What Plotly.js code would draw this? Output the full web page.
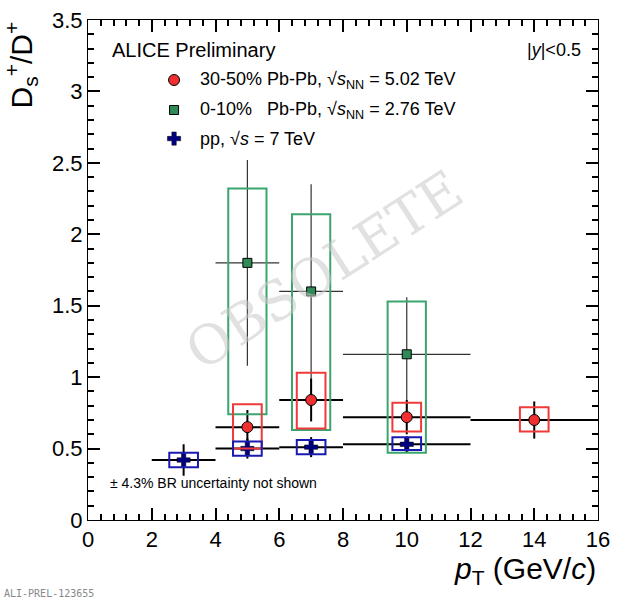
<!DOCTYPE html>
<html><head><meta charset="utf-8">
<script src="https://cdn.plot.ly/plotly-3.0.1.min.js"></script>
<style>body{margin:0}#plot{width:620px;height:599px}</style>
</head><body><div id="plot"></div>
<script>
// pp, sqrt(s) = 7 TeV
const ppX = [3, 5, 7, 10];
const ppXerr = [1, 1, 1, 2];
const ppY = [0.42, 0.50, 0.51, 0.53];
const ppStat = [0.11, 0.07, 0.07, 0.055];
const ppSystLo = [0.37, 0.45, 0.46, 0.49];
const ppSystHi = [0.47, 0.55, 0.56, 0.58];

// 30-50% Pb-Pb 5.02 TeV
const pbX = [5, 7, 10, 14];
const pbXerr = [1, 1, 2, 2];
const pbY = [0.65, 0.84, 0.72, 0.70];
const pbStat = [0.12, 0.15, 0.12, 0.13];
const pbSystLo = [0.50, 0.64, 0.62, 0.62];
const pbSystHi = [0.81, 1.03, 0.82, 0.79];

// 0-10% Pb-Pb 2.76 TeV
const cX = [5, 7, 10];
const cXerr = [1, 1, 2];
const cY = [1.80, 1.60, 1.16];
const cStatHi = [0.72, 0.75, 0.40];
const cStatLo = [0.72, 0.75, 0.40];
const cSystLo = [0.74, 0.63, 0.47];
const cSystHi = [2.32, 2.14, 1.53];

const shapes = [];
function boxes(xs, lo, hi, hw, color) {
  xs.forEach((x, i) => shapes.push({type: 'rect', xref: 'x', yref: 'y',
    x0: x - hw, x1: x + hw, y0: lo[i], y1: hi[i], line: {color: color, width: 2}}));
}
boxes(cX, cSystLo, cSystHi, 0.6, '#3aa56f');
boxes(pbX, pbSystLo, pbSystHi, 0.45, '#f03a3a');
boxes(ppX, ppSystLo, ppSystHi, 0.45, '#1a1ab0');

const data = [
  {x: cX, y: cY, type: 'scatter', mode: 'markers',
   error_x: {type: 'data', array: cXerr, color: '#333', thickness: 1.2, width: 0},
   error_y: {type: 'data', array: cStatHi, arrayminus: cStatLo, color: '#333', thickness: 1.2, width: 0},
   marker: {symbol: 'square', size: 9, color: '#2e8b57', line: {color: '#000', width: 1}}},
  {x: pbX, y: pbY, type: 'scatter', mode: 'markers',
   error_x: {type: 'data', array: pbXerr, color: '#000', thickness: 2, width: 0},
   error_y: {type: 'data', array: pbStat, color: '#000', thickness: 2, width: 0},
   marker: {symbol: 'circle', size: 11, color: '#f03030', line: {color: '#000', width: 1}}},
  {x: ppX, y: ppY, type: 'scatter', mode: 'markers',
   error_x: {type: 'data', array: ppXerr, color: '#000', thickness: 2, width: 0},
   error_y: {type: 'data', array: ppStat, color: '#000', thickness: 2, width: 0},
   marker: {symbol: 'cross', size: 11, color: '#000080', line: {color: '#000', width: 0.5}}}
];

const f = {family: 'Liberation Sans, Arial, sans-serif', color: '#000'};
const ax = {ticks: 'inside', ticklen: 12, tickwidth: 2, tickcolor: '#000', mirror: 'ticks',
  showline: true, linecolor: '#000', linewidth: 1, showgrid: false, zeroline: false,
  tickfont: {size: 22, family: f.family}};
const layout = {
  width: 620, height: 599,
  margin: {l: 88, r: 22, t: 20, b: 79},
  showlegend: false,
  plot_bgcolor: '#fff', paper_bgcolor: '#fff',
  font: f,
  shapes: shapes,
  xaxis: Object.assign({range: [0, 16], dtick: 2,
    minor: {dtick: 0.4, ticks: 'inside', ticklen: 6, tickwidth: 1.5, tickcolor: '#000'}}, ax),
  yaxis: Object.assign({range: [0, 3.5], dtick: 0.5,
    minor: {dtick: 0.1, ticks: 'inside', ticklen: 6, tickwidth: 1.5, tickcolor: '#000'}}, ax),
  annotations: [
    {x: 1, y: 0, xref: 'paper', yref: 'paper', xanchor: 'right', yanchor: 'top', yshift: -30, showarrow: false,
     text: '<i>p</i><sub>T</sub> (GeV/<i>c</i>)', font: {size: 30}},
    {x: 0, y: 1, xref: 'paper', yref: 'paper', xanchor: 'right', yanchor: 'top', xshift: -44, showarrow: false, textangle: -90,
     text: 'D<sub>s</sub><sup>+</sup>/D<sup>+</sup>', font: {size: 30}},
    {x: 0.043, y: 3.29, xref: 'paper', yref: 'y', xanchor: 'left', showarrow: false, text: 'ALICE Preliminary', font: {size: 20}},
    {x: 0.97, y: 3.29, xref: 'paper', yref: 'y', xanchor: 'right', showarrow: false, text: '|<i>y</i>|<0.5', font: {size: 18}},
    {x: 0.216, y: 3.08, xref: 'paper', yref: 'y', xanchor: 'left', showarrow: false, text: '30-50% Pb-Pb, √<i>s</i><sub>NN</sub> = 5.02 TeV', font: {size: 18}},
    {x: 0.216, y: 2.87, xref: 'paper', yref: 'y', xanchor: 'left', showarrow: false, text: '0-10%   Pb-Pb, √<i>s</i><sub>NN</sub> = 2.76 TeV', font: {size: 18}},
    {x: 0.216, y: 2.67, xref: 'paper', yref: 'y', xanchor: 'left', showarrow: false, text: 'pp, √<i>s</i> = 7 TeV', font: {size: 18}},
    {x: 0.04, y: 0.055, xref: 'paper', yref: 'paper', xanchor: 'left', showarrow: false, text: '± 4.3% BR uncertainty not shown', font: {size: 14}},
    {x: 7.4, y: 1.75, xref: 'x', yref: 'y', showarrow: false, textangle: -33, text: 'OBSOLETE',
     font: {size: 54, family: 'DejaVu Serif, serif', color: 'rgba(200,200,200,0.55)'}},
    {x: 0, y: 0, xref: 'paper', yref: 'paper', xanchor: 'left', yanchor: 'top', yshift: -66, xshift: -86, showarrow: false,
     text: 'ALI-PREL-123655', font: {size: 10, family: 'DejaVu Sans Mono, monospace', color: '#888'}}
  ]
};
// legend markers
const legMarkX = [2.7, 2.7, 2.7];
const legMarkY = [3.08, 2.87, 2.67];
data.push({x: [legMarkX[0]], y: [legMarkY[0]], type: 'scatter', mode: 'markers',
  marker: {symbol: 'circle', size: 11, color: '#f03030', line: {color: '#000', width: 1}}});
data.push({x: [legMarkX[1]], y: [legMarkY[1]], type: 'scatter', mode: 'markers',
  marker: {symbol: 'square', size: 9, color: '#2e8b57', line: {color: '#000', width: 1}}});
data.push({x: [legMarkX[2]], y: [legMarkY[2]], type: 'scatter', mode: 'markers',
  marker: {symbol: 'cross', size: 11, color: '#000080', line: {color: '#000', width: 0.5}}});
Plotly.newPlot('plot', data, layout, {displayModeBar: false});
</script></body></html>
